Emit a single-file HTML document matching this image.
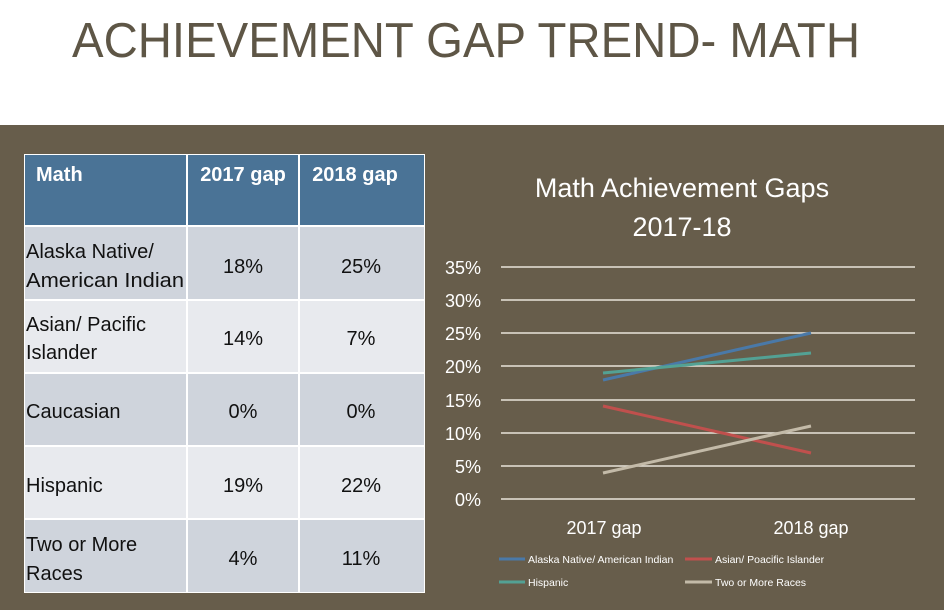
<!DOCTYPE html>
<html><head><meta charset="utf-8"><style>
html,body{margin:0;padding:0;background:#fff}
svg{display:block}
text{font-family:"Liberation Sans",sans-serif}
</style></head><body>
<svg width="944" height="610" xmlns="http://www.w3.org/2000/svg">
<rect x="0" y="0" width="944" height="610" fill="#fff"/>
<text x="72" y="57" font-size="49" fill="#5e5646" textLength="788" lengthAdjust="spacingAndGlyphs">ACHIEVEMENT GAP TREND- MATH</text>
<rect x="0" y="125" width="944" height="485" fill="#675d4b"/>
<!-- table -->
<rect x="24" y="154" width="401" height="439" fill="#fff"/>
<rect x="25" y="155" width="161" height="70" fill="#4a7396"/>
<rect x="188" y="155" width="110" height="70" fill="#4a7396"/>
<rect x="300" y="155" width="124" height="70" fill="#4a7396"/>
<g fill="#cfd4dc">
<rect x="25" y="227" width="161" height="72"/><rect x="188" y="227" width="110" height="72"/><rect x="300" y="227" width="124" height="72"/>
<rect x="25" y="374" width="161" height="71"/><rect x="188" y="374" width="110" height="71"/><rect x="300" y="374" width="124" height="71"/>
<rect x="25" y="520" width="161" height="72"/><rect x="188" y="520" width="110" height="72"/><rect x="300" y="520" width="124" height="72"/>
</g>
<g fill="#e8eaee">
<rect x="25" y="301" width="161" height="71"/><rect x="188" y="301" width="110" height="71"/><rect x="300" y="301" width="124" height="71"/>
<rect x="25" y="447" width="161" height="71"/><rect x="188" y="447" width="110" height="71"/><rect x="300" y="447" width="124" height="71"/>
</g>
<g fill="#fff" font-size="20" font-weight="bold">
<text x="36" y="181">Math</text>
<text x="243" y="181" text-anchor="middle">2017 gap</text>
<text x="355" y="181" text-anchor="middle">2018 gap</text>
</g>
<g fill="#111" font-size="20">
<text x="26" y="258">Alaska Native/</text>
<text x="26" y="287" textLength="158" lengthAdjust="spacingAndGlyphs">American Indian</text>
<text x="26" y="331">Asian/ Pacific</text>
<text x="26" y="359">Islander</text>
<text x="26" y="418">Caucasian</text>
<text x="26" y="492">Hispanic</text>
<text x="26" y="551">Two or More</text>
<text x="26" y="580">Races</text>
<g text-anchor="middle">
<text x="243" y="273">18%</text><text x="361" y="273">25%</text>
<text x="243" y="345">14%</text><text x="361" y="345">7%</text>
<text x="243" y="418">0%</text><text x="361" y="418">0%</text>
<text x="243" y="492">19%</text><text x="361" y="492">22%</text>
<text x="243" y="565">4%</text><text x="361" y="565">11%</text>
</g>
</g>
<!-- chart -->
<g fill="#fff" font-size="27" text-anchor="middle">
<text x="682" y="197">Math Achievement Gaps</text>
<text x="682" y="236">2017-18</text>
</g>
<g stroke="#e8e4da" stroke-width="1.5">
<line x1="501" y1="267" x2="915" y2="267"/>
<line x1="501" y1="300" x2="915" y2="300"/>
<line x1="501" y1="333" x2="915" y2="333"/>
<line x1="501" y1="366" x2="915" y2="366"/>
<line x1="501" y1="400" x2="915" y2="400"/>
<line x1="501" y1="433" x2="915" y2="433"/>
<line x1="501" y1="466" x2="915" y2="466"/>
<line x1="501" y1="499" x2="915" y2="499"/>
</g>
<g fill="#fff" font-size="18" text-anchor="end">
<text x="481" y="274">35%</text>
<text x="481" y="307">30%</text>
<text x="481" y="340">25%</text>
<text x="481" y="373">20%</text>
<text x="481" y="407">15%</text>
<text x="481" y="440">10%</text>
<text x="481" y="473">5%</text>
<text x="481" y="506">0%</text>
</g>
<g stroke-width="3" fill="none">
<line x1="603" y1="380" x2="811" y2="333" stroke="#4a79a8"/>
<line x1="603" y1="406" x2="811" y2="453" stroke="#c0504d"/>
<line x1="603" y1="373" x2="811" y2="353" stroke="#53a194"/>
<line x1="603" y1="473" x2="811" y2="426" stroke="#c3baa8"/>
</g>
<g fill="#fff" font-size="18" text-anchor="middle">
<text x="604" y="534">2017 gap</text>
<text x="811" y="534">2018 gap</text>
</g>
<g stroke-width="3">
<line x1="499" y1="559" x2="525" y2="559" stroke="#4a79a8"/>
<line x1="685" y1="559" x2="712" y2="559" stroke="#c0504d"/>
<line x1="499" y1="582" x2="525" y2="582" stroke="#53a194"/>
<line x1="685" y1="582" x2="712" y2="582" stroke="#c3baa8"/>
</g>
<g fill="#fff" font-size="10.5">
<text x="528" y="563">Alaska Native/ American Indian</text>
<text x="715" y="563">Asian/ Poacific Islander</text>
<text x="528" y="586">Hispanic</text>
<text x="715" y="586">Two or More Races</text>
</g>
</svg>
</body></html>
